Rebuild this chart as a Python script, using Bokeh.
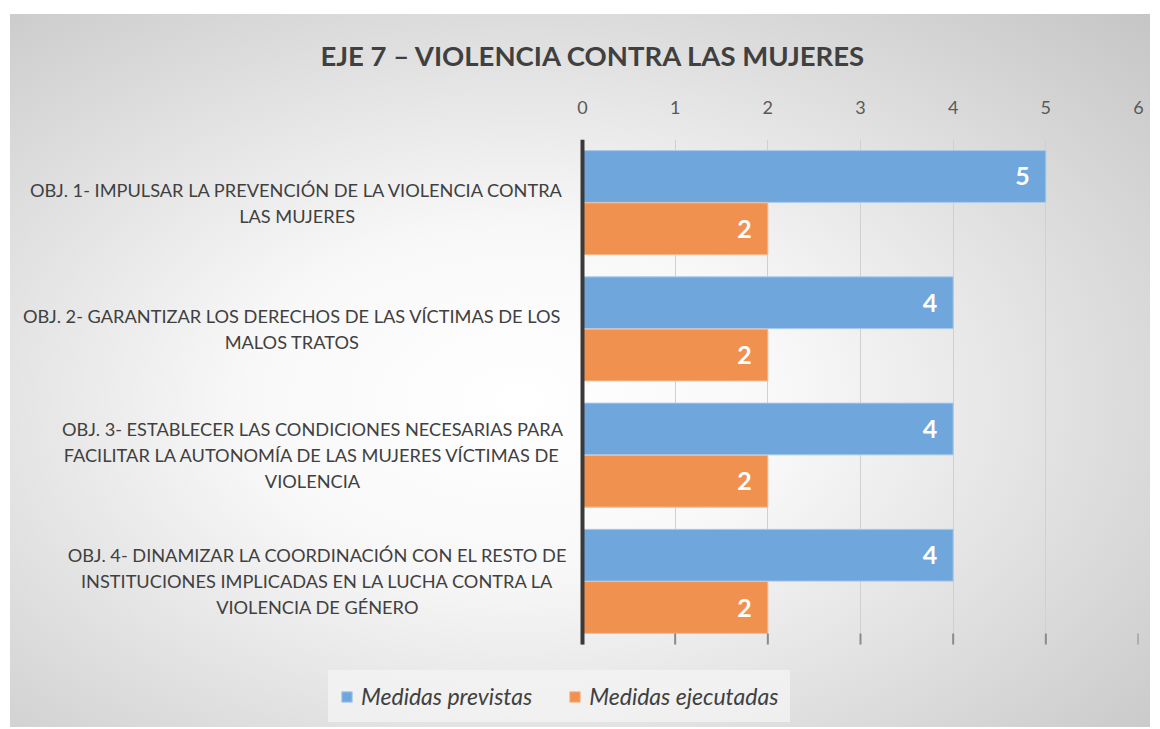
from bokeh.plotting import figure
from bokeh.models import ColumnDataSource, Range1d, Legend, LegendItem, FixedTicker
from bokeh.transform import dodge
from bokeh.embed import file_html
from bokeh.resources import INLINE
from bokeh.core.properties import value

categories = [
    "OBJ. 1- IMPULSAR LA PREVENCIÓN DE LA VIOLENCIA CONTRA\nLAS MUJERES",
    "OBJ. 2- GARANTIZAR LOS DERECHOS DE LAS VÍCTIMAS DE LOS\nMALOS TRATOS",
    "OBJ. 3- ESTABLECER LAS CONDICIONES NECESARIAS PARA\nFACILITAR LA AUTONOMÍA DE LAS MUJERES VÍCTIMAS DE\nVIOLENCIA",
    "OBJ. 4- DINAMIZAR LA COORDINACIÓN CON EL RESTO DE\nINSTITUCIONES IMPLICADAS EN LA LUCHA CONTRA LA\nVIOLENCIA DE GÉNERO",
]
previstas = [5, 4, 4, 4]
ejecutadas = [2, 2, 2, 2]
series_names = ["Medidas previstas", "Medidas ejecutadas"]
x_ticks = [0, 1, 2, 3, 4, 5, 6]
title_text = "EJE 7 – VIOLENCIA CONTRA LAS MUJERES"

FONT = "Lato"
BLUE = "#6FA6DB"
ORANGE = "#F0914F"
TXT = "#404040"

n = len(categories)
# category slot positions (first category at the top)
ypos = [n - 1 - i for i in range(n)]

# layout: frame covers the label area (x < 0) and the legend area (y < -0.5)
FRAME_W, FRAME_H = 1128, 588
PX_PER_UNIT_X = 556 / 6
PX_PER_CAT = 126.25
X_START = x_ticks[-1] - FRAME_W / PX_PER_UNIT_X
Y_TOP = n - 0.5
Y_START = Y_TOP - FRAME_H / PX_PER_CAT
CAT_BOTTOM = -0.5

# category label blocks are right-anchored, lines centred inside the block
CHAR_W = 10.24
GAP = 14
lbl_off = [-(GAP + max(len(s) for s in c.split("\n")) * CHAR_W / 2) for c in categories]

src = ColumnDataSource(dict(
    cat=categories,
    y=ypos,
    prev=previstas,
    ejec=ejecutadas,
    prev_lbl=[str(v) for v in previstas],
    ejec_lbl=[str(v) for v in ejecutadas],
    zero=[x_ticks[0]] * n,
    lbl_off=lbl_off,
))
tick_src = ColumnDataSource(dict(x=x_ticks, y0=[CAT_BOTTOM] * len(x_ticks),
                                 y1=[CAT_BOTTOM + 11 / PX_PER_CAT] * len(x_ticks)))
axis_src = ColumnDataSource(dict(x=[x_ticks[0]], y0=[CAT_BOTTOM], y1=[Y_TOP]))

p = figure(frame_width=FRAME_W, frame_height=FRAME_H,
           y_range=Range1d(Y_START, Y_TOP),
           x_range=Range1d(X_START, x_ticks[-1]),
           x_axis_location="above",
           output_backend="svg", toolbar_location=None,
           min_border_left=10, min_border_right=12,
           min_border_top=139, min_border_bottom=0)

p.styles = {
    "background": ("linear-gradient(#ffffff,#ffffff) top left / 100% 14px no-repeat, "
                   "linear-gradient(#ffffff,#ffffff) top left / 10px 100% no-repeat, "
                   "radial-gradient(ellipse farthest-corner at 45% 55%, #ffffff 0%, #f8f8f8 30%, #c4c4c4 100%)"),
}
p.background_fill_alpha = 0
p.border_fill_alpha = 0
p.outline_line_alpha = 0

p.ygrid.visible = False
p.xgrid.ticker = FixedTicker(ticks=x_ticks)
p.xgrid.grid_line_color = "#D0D0D0"
p.xgrid.cross_bounds = (CAT_BOTTOM, Y_TOP)

r1 = p.hbar(y=dodge("y", 0.207), left=0, right="prev", height=0.41,
            source=src, fill_color=BLUE, line_color="#A9CAEA", line_width=1)
r2 = p.hbar(y=dodge("y", -0.207), left=0, right="ejec", height=0.41,
            source=src, fill_color=ORANGE, line_color="#F6B98F", line_width=1)

for col, lbl, off in (("prev", "prev_lbl", 0.207), ("ejec", "ejec_lbl", -0.207)):
    p.text(x=col, y=dodge("y", off), text=lbl, source=src,
           x_offset=-16, text_align="right", text_baseline="middle",
           text_color="white", text_font_style="bold", text_font_size="25px",
           text_font=value(FONT))

# category labels
p.text(x="zero", y="y", text="cat", source=src, x_offset="lbl_off",
       text_align="center", text_baseline="middle",
       text_font=value(FONT), text_font_size="18.2px", text_color=TXT,
       text_line_height=1.18)

# small tick marks at the bottom of the value axis
p.segment(x0="x", x1="x", y0="y0", y1="y1", source=tick_src,
          line_color="#8A8A8A", line_width=2)

# value-zero axis line
p.segment(x0="x", x1="x", y0="y0", y1="y1", source=axis_src,
          line_color="#3A3A3A", line_width=4)

p.title.text = title_text
p.title.align = "left"
p.title.offset = 310
p.title.standoff = 52
p.title.text_font = FONT
p.title.text_font_size = "27.5px"
p.title.text_font_style = "bold"
p.title.text_color = TXT

p.yaxis.visible = False

xa = p.xaxis[0]
xa.ticker = FixedTicker(ticks=x_ticks)
xa.axis_line_alpha = 0
xa.major_tick_line_alpha = 0
xa.minor_tick_line_alpha = 0
xa.major_label_text_font = FONT
xa.major_label_text_font_size = "18px"
xa.major_label_text_color = "#595959"
xa.major_label_standoff = 20

legend = Legend(items=[LegendItem(label=series_names[0], renderers=[r1]),
                       LegendItem(label=series_names[1], renderers=[r2])],
                orientation="horizontal", location=(318, 5),
                label_text_font=FONT, label_text_font_style="italic",
                label_text_font_size="23px", label_text_color=TXT,
                glyph_width=13, glyph_height=13, label_standoff=8, spacing=36,
                padding=12, margin=0,
                background_fill_color="#F4F4F4", background_fill_alpha=0.75,
                border_line_alpha=0)
p.add_layout(legend, "center")

open("out.html", "w").write(file_html(p, INLINE))
